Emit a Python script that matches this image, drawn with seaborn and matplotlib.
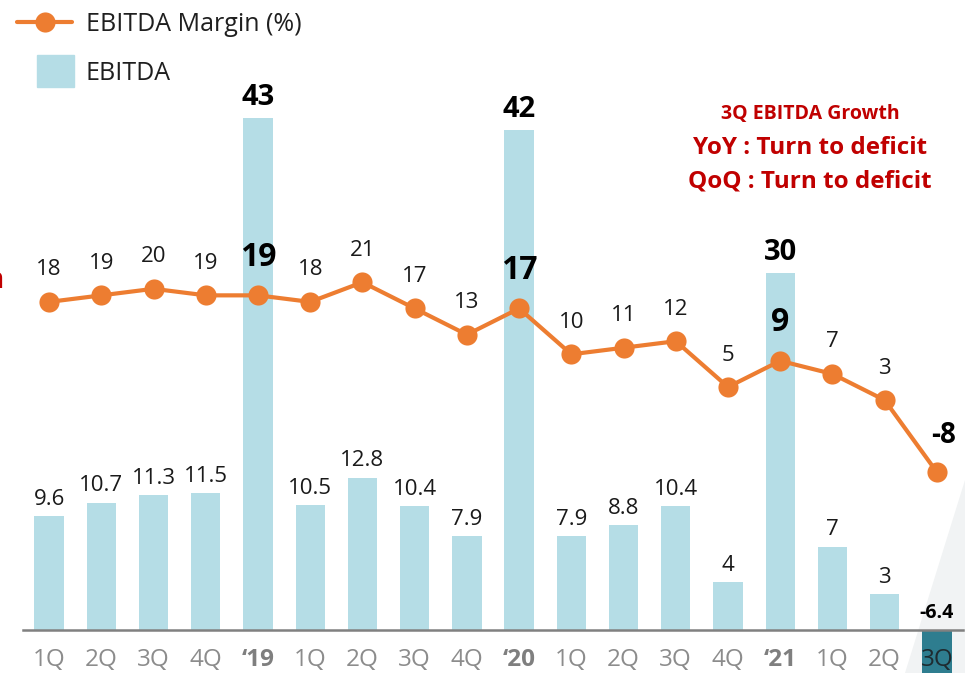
import numpy as np
import pandas as pd
import matplotlib
matplotlib.use('Agg')
import matplotlib.pyplot as plt
import matplotlib.patches as mpatches
from matplotlib.lines import Line2D
from matplotlib.legend_handler import HandlerPatch
import seaborn as sns

# chart data
periods = ['1Q', '2Q', '3Q', '4Q', '\u201819', '1Q', '2Q', '3Q', '4Q', '\u201820',
           '1Q', '2Q', '3Q', '4Q', '\u201821', '1Q', '2Q', '3Q']
ebitda = [9.6, 10.7, 11.3, 11.5, 43, 10.5, 12.8, 10.4, 7.9, 42,
          7.9, 8.8, 10.4, 4, 30, 7, 3, -6.4]
margin = [18, 19, 20, 19, 19, 18, 21, 17, 13, 17,
          10, 11, 12, 5, 9, 7, 3, -8]
legend_labels = ['EBITDA Margin (%)', 'EBITDA']
note_lines = ['3Q EBITDA Growth', 'YoY : Turn to deficit', 'QoQ : Turn to deficit']

bar_light = '#B5DDE6'
bar_dark = '#2E7D8F'
orange = '#ED7D31'
red = '#C00000'

df = pd.DataFrame({'pos': range(len(periods)), 'period': periods,
                   'ebitda': ebitda, 'margin': margin})
df['is_year'] = df['period'].str.startswith('\u2018')
df['sign'] = np.where(df['ebitda'] < 0, 'neg', 'pos')

sns.set_theme(style='white')
plt.rcParams['font.family'] = ['Open Sans', 'DejaVu Sans']

fig = plt.figure(figsize=(9.65, 6.73), dpi=100)
ax = fig.add_axes([23 / 965, 43 / 673, 940 / 965, 630 / 673])
ax.set_facecolor('none')

# faint grey wedge in the bottom right corner
fig.patches.append(mpatches.Polygon([[905 / 965, 0], [1, 193 / 673], [1, 0]], closed=True,
                                    transform=fig.transFigure, facecolor='#F1F3F4',
                                    edgecolor='none', zorder=-5))

# bars
sns.barplot(data=df, x='pos', y='ebitda', hue='sign', palette={'pos': bar_light, 'neg': bar_dark},
            width=0.56, dodge=False, legend=False, saturation=1, linewidth=0, ax=ax)
for p in ax.patches:
    p.set_clip_on(False)  # negative bar runs off the bottom
    p.set_zorder(0.5)

ax.set_ylim(0, 52.9)
ax.set_yticks([])
ax.set_xlabel('')
ax.set_ylabel('')
for s in ['top', 'right', 'left']:
    ax.spines[s].set_visible(False)
ax.spines['bottom'].set_color('#808080')
ax.spines['bottom'].set_linewidth(1.8)

for i, row in df.iterrows():
    v = row['ebitda']
    if v < 0:
        ax.annotate(f'{v:g}', (i, 0), xytext=(0, 12), textcoords='offset points',
                    ha='center', va='center', fontsize=14, fontweight='bold', color='black')
    elif row['is_year']:
        ax.annotate(f'{v:g}', (i, v), xytext=(0, 14.5), textcoords='offset points',
                    ha='center', va='center', fontsize=21, fontweight='bold', color='black')
    else:
        ax.annotate(f'{v:g}', (i, v), xytext=(0, 12), textcoords='offset points',
                    ha='center', va='center', fontsize=16, color='#1A1A1A')

# margin line on its own scale
ax2 = ax.twinx()
sns.lineplot(data=df, x='pos', y='margin', color=orange, lw=3, marker='o',
             markersize=14.5, markeredgewidth=0, ax=ax2)
ax2.set_ylim(-32.1, 64.1)
ax2.set_yticks([])
ax2.set_xlabel('')
ax2.set_ylabel('')
for s in ax2.spines.values():
    s.set_visible(False)

last = len(margin) - 1
for i, row in df.iterrows():
    v = row['margin']
    if i == last:
        ax2.annotate(f'{v:g}', (i, v), xytext=(5, 26.5), textcoords='offset points',
                     ha='center', va='center', fontsize=20, fontweight='bold', color='black')
    elif row['is_year']:
        ax2.annotate(f'{v:g}', (i, v), xytext=(0, 27.5), textcoords='offset points',
                     ha='center', va='center', fontsize=23, fontweight='bold', color='black')
    else:
        ax2.annotate(f'{v:g}', (i, v), xytext=(0, 23), textcoords='offset points',
                     ha='center', va='center', fontsize=16, color='#1A1A1A')

# x ticks (set after lineplot since the x axis is shared)
ax.set_xlim(-0.5, len(periods) - 0.5)
ax.set_xticks(range(len(periods)))
ax.set_xticklabels(periods)
ax.tick_params(axis='x', length=0, pad=13, labelsize=17.5, colors='#8C8C8C')
for lab, yr, v in zip(ax.get_xticklabels(), df['is_year'], ebitda):
    lab.set_zorder(5)
    if yr:
        lab.set_fontweight('bold')
        lab.set_color('#7F7F7F')
    if v < 0:
        lab.set_color('#1E2B30')  # sits on the dark bar

# legend
def make_box(legend, orig_handle, xdescent, ydescent, width, height, fontsize):
    return mpatches.Rectangle((-xdescent + 0.36 * width, -ydescent - 0.4 * height),
                              0.68 * width, 1.8 * height)

handles = [Line2D([], [], color=orange, lw=3, marker='o', markersize=14.5, markeredgewidth=0),
           mpatches.Patch(color=bar_light)]
fig.legend(handles, legend_labels, loc='upper left', bbox_to_anchor=(17 / 965, 1 - 12 / 673),
           frameon=False, fontsize=18, handlelength=2.2, handletextpad=0.55,
           labelspacing=0.95, borderpad=0, borderaxespad=0, labelcolor='#1F1F1F',
           handler_map={mpatches.Patch: HandlerPatch(patch_func=make_box)})

# red note on the right
note_y = [114, 148, 182]
note_size = [14, 17.5, 17.5]
for txt, y, fs in zip(note_lines, note_y, note_size):
    fig.text(810 / 965, 1 - y / 673, txt, ha='center', va='center', color=red,
             fontsize=fs, fontweight='bold')

# clipped piece of text at the left edge
fig.text(4 / 965, 1 - 280 / 673, 'n', ha='right', va='center', color=red,
         fontsize=20, fontweight='bold')

fig.savefig('out.png', dpi=100)
